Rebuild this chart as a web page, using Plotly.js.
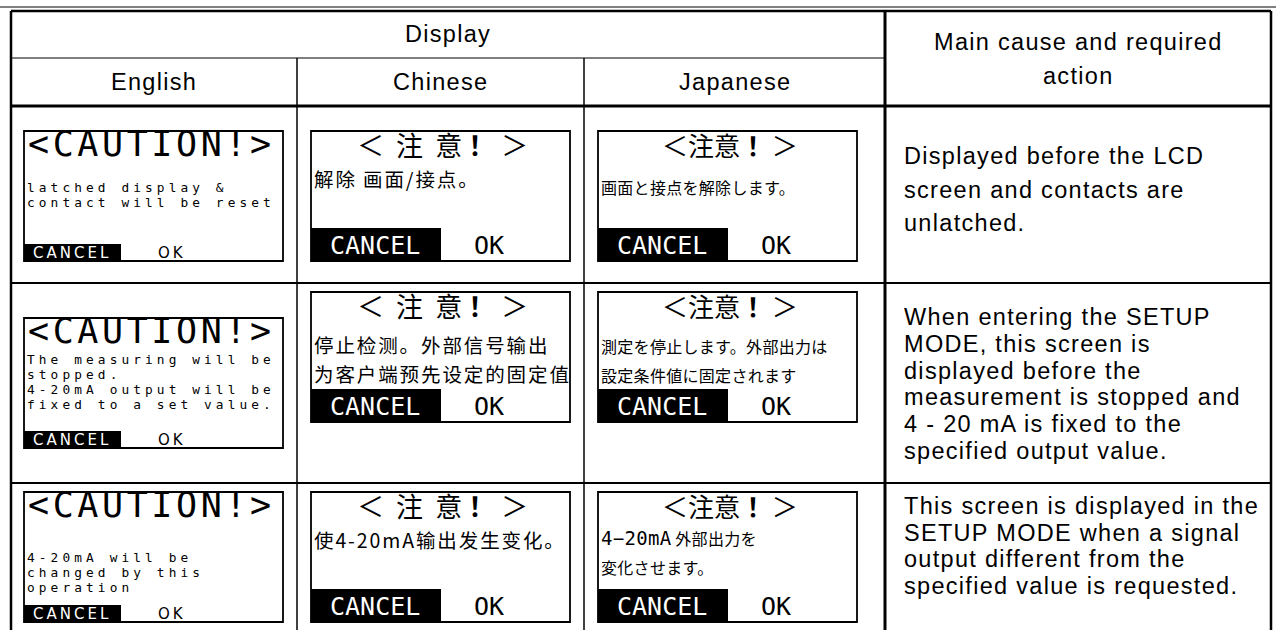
<!DOCTYPE html>
<html>
<head>
<meta charset="utf-8">
<script src="https://cdn.plot.ly/plotly-3.0.1.min.js"></script>
<style>html,body{margin:0;padding:0;background:#fff;}#chart{width:1276px;height:630px;}</style>
</head>
<body>
<div id="chart"></div>
<script>
// ---------- content ----------
const headerTop = "Display";
const headerCause = ["Main cause and required", "action"];
const columnHeads = ["English", "Chinese", "Japanese"];
const englishTitle = "<CAUTION!>";
const chineseTitle = "＜\u00a0\u00a0注\u00a0\u00a0意\u00a0<b>！</b>\u00a0＞";
const japaneseTitle = "＜注意<b>！</b>\u00a0＞";
const englishLines = [
  ["latched display &", "contact will be reset"],
  ["The measuring will be", "stopped.", "4-20mA output will be", "fixed to a set value."],
  ["4-20mA will be", "changed by this", "operation"]
];
const chineseLines = [
  ["解除 画面/接点。"],
  ["停止检测。外部信号输出", "为客户端预先设定的固定值"],
  ["使4-20mA输出发生变化。"]
];
const japaneseLines = [
  ["画面と接点を解除します。"],
  ["測定を停止します。外部出力は", "設定条件値に固定されます"],
  ["4−20mA\u00a0外部出力を", "変化させます。"]
];
const buttonLabels = ["CANCEL", "OK"];
const causeLines = [
  ["Displayed before the LCD", "screen and contacts are", "unlatched."],
  ["When entering the SETUP", "MODE, this screen is", "displayed before the", "measurement is stopped and", "4 - 20 mA is fixed to the", "specified output value."],
  ["This screen is displayed in the", "SETUP MODE when a signal", "output different from the", "specified value is requested."]
];

// ---------- layout geometry ----------
const G = {
  W: 1276, H: 630,
  colX: [11, 297, 584, 885, 1271],
  rowY: [11, 58, 106, 283, 483],
  boxW: 259, boxH: 130,
  boxLeft: [24, 311, 598],
  enTop: [131, 318, 492],
  cjTop: [131, 292, 492],
  enFirst: [56, 41, 65], enStep: 15,
  cnFirst: [47, 52, 47], jpFirst: [56, 54, 46], cjStep: 29,
  causeFirst: [156, 317, 506], causeStep: [33.5, 26.8, 26.7],
  causeX: 903
};

const shapes = [];
const ann = [];
function line(x0, y0, x1, y1, w) {
  shapes.push({type: 'line', xref: 'x', yref: 'y', x0, y0, x1, y1, line: {color: '#000', width: w}});
}
function rect(x0, y0, x1, y1, fill, w) {
  shapes.push({type: 'rect', xref: 'x', yref: 'y', x0, y0, x1, y1,
    fillcolor: fill || 'rgba(0,0,0,0)', line: {color: '#000', width: w}});
}
function text(t, x, y, size, family, xanchor, color, ls) {
  const body = ls ? `<span style="letter-spacing:${ls}px">${t}</span>` : t;
  ann.push({text: body, x, y, xref: 'x', yref: 'y', showarrow: false,
    xanchor: xanchor || 'center', yanchor: 'middle', borderpad: 0,
    font: {size, family, color: color || '#000'}});
}
const SANS = "Liberation Sans, Arial, sans-serif";
const MONO = "DejaVu Sans Mono, monospace";
const DJV = "DejaVu Sans, sans-serif";
const CN = "Noto Sans CJK SC";
const JP = "Noto Sans CJK JP";
const SANS_SIZE = 23.5, SANS_LS = 1.3;
// Latin runs inside the Japanese screens use the LCD-like mono face
function jpWrap(s) {
  return s.split(/([0-9A-Za-z−\-]+)/).filter(p => p.length).map(p =>
    /^[0-9A-Za-z−\-]+$/.test(p)
      ? `<span style="font-family:DejaVu Sans Mono;font-size:19px">${p}</span>` : p).join('');
}

// table grid
const [c0, c1, c2, c3, c4] = G.colX;
const [r0, r1, r2, r3, r4] = G.rowY;
line(0, 7, G.W, 7, 1);
line(c0, r0, c4, r0, 2.5);
line(c0, r0, c0, G.H, 2.5);
line(c4, r0, c4, G.H, 2.5);
line(c0, r1, c3, r1, 1.2);
line(c0, r2, c4, r2, 3);
line(c3, r0, c3, G.H, 3);
line(c1, r1, c1, G.H, 1.5);
line(c2, r1, c2, G.H, 1.5);
line(c0, r3, c4, r3, 1.8);
line(c0, r4, c4, r4, 1.8);

// headers
text(headerTop, (c0 + c3) / 2, 34, SANS_SIZE, SANS, 'center', null, SANS_LS);
columnHeads.forEach((h, i) => text(h, (G.colX[i] + G.colX[i + 1]) / 2, 82, SANS_SIZE, SANS, 'center', null, SANS_LS));
text(headerCause[0], (c3 + c4) / 2, 42, SANS_SIZE, SANS, 'center', null, SANS_LS);
text(headerCause[1], (c3 + c4) / 2, 76, SANS_SIZE, SANS, 'center', null, SANS_LS);

// LCD screens
for (let r = 0; r < 3; r++) {
  // English
  let L = G.boxLeft[0], T = G.enTop[r];
  rect(L, T, L + G.boxW, T + G.boxH, '#fff', 1.8);
  rect(L, T + 113, L + 97, T + G.boxH, '#000', 0);
  text(englishTitle, L + 3, T + 13, 35, MONO, 'left', null, 3.6);
  englishLines[r].forEach((s, k) =>
    text(s, L + 2, T + G.enFirst[r] + k * G.enStep, 12.8, MONO, 'left', null, 4.1));
  text(buttonLabels[0], L + 48, T + 122, 15, DJV, 'center', '#fff', 3);
  text(buttonLabels[1], L + 148, T + 122, 15, DJV, 'center', null, 3);

  // Chinese
  L = G.boxLeft[1]; T = G.cjTop[r];
  rect(L, T, L + G.boxW, T + G.boxH, '#fff', 1.8);
  rect(L, T + 97, L + 130, T + G.boxH, '#000', 0);
  text(chineseTitle, L + G.boxW / 2 + 2, T + 13, 27, CN);
  chineseLines[r].forEach((s, k) =>
    text(s, L + 2, T + G.cnFirst[r] + k * G.cjStep, 19.5, CN, 'left', null, 1.9));
  text(buttonLabels[0], L + 64, T + 114, 25, MONO, 'center', '#fff');
  text(buttonLabels[1], L + 178, T + 114, 25, MONO, 'center');

  // Japanese
  L = G.boxLeft[2]; T = G.cjTop[r];
  rect(L, T, L + G.boxW, T + G.boxH, '#fff', 1.8);
  rect(L, T + 97, L + 130, T + G.boxH, '#000', 0);
  text(japaneseTitle, L + G.boxW / 2 + 2, T + 13, 26, JP);
  japaneseLines[r].forEach((s, k) =>
    text(jpWrap(s), L + 2, T + G.jpFirst[r] + k * G.cjStep, 16, JP, 'left', null, 0.3));
  text(buttonLabels[0], L + 64, T + 114, 25, MONO, 'center', '#fff');
  text(buttonLabels[1], L + 178, T + 114, 25, MONO, 'center');

  // cause column
  causeLines[r].forEach((s, k) =>
    text(s, G.causeX, G.causeFirst[r] + k * G.causeStep[r], SANS_SIZE, SANS, 'left', null, SANS_LS));
}

const layout = {
  width: G.W, height: G.H,
  margin: {l: 0, r: 0, t: 0, b: 0, pad: 0},
  paper_bgcolor: '#fff', plot_bgcolor: '#fff',
  showlegend: false,
  font: {family: SANS, color: '#000'},
  xaxis: {range: [0, G.W], visible: false, fixedrange: true},
  yaxis: {range: [G.H, 0], visible: false, fixedrange: true},
  shapes, annotations: ann
};
Plotly.newPlot('chart', [{x: [], y: [], type: 'scatter', hoverinfo: 'skip'}], layout, {displayModeBar: false, staticPlot: true});
</script>
</body>
</html>
